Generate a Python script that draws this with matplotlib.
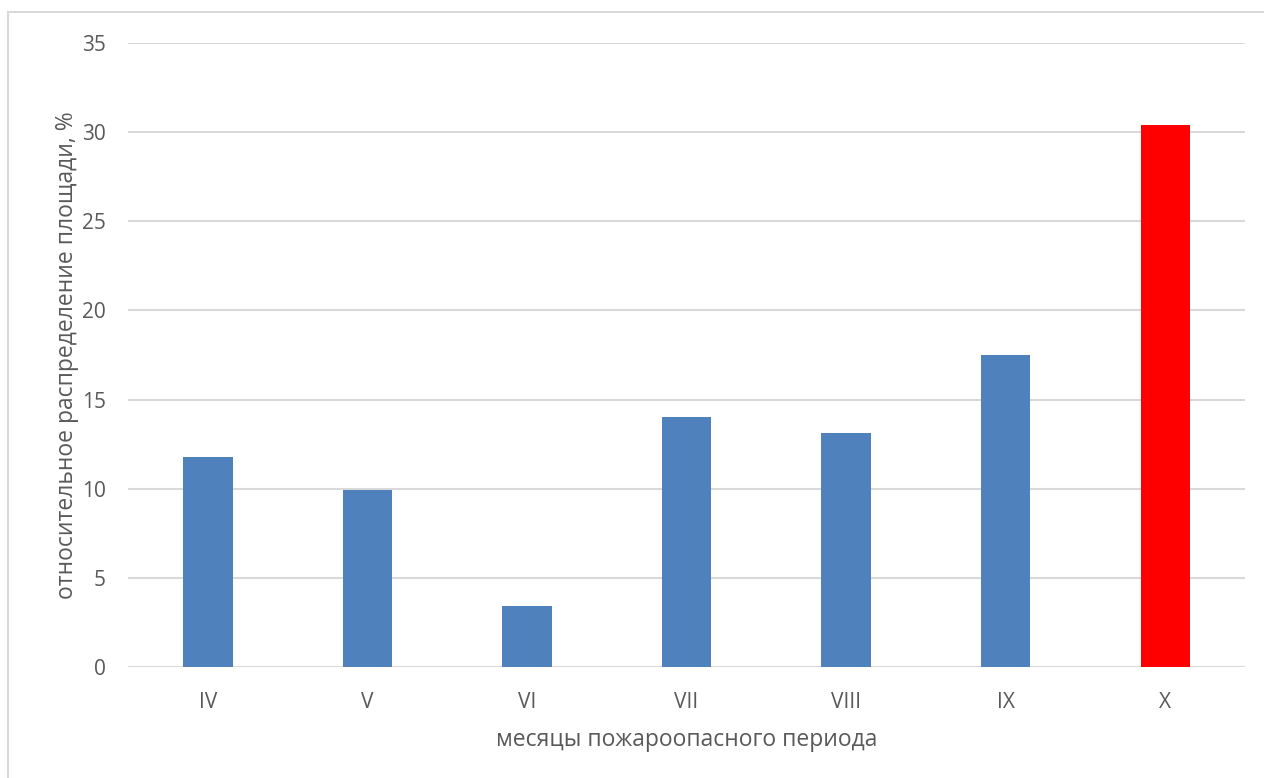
import numpy as np
import matplotlib.pyplot as plt
from matplotlib.patches import Rectangle

months = ["IV", "V", "VI", "VII", "VIII", "IX", "X"]
shares = [11.8, 9.9, 3.4, 14.0, 13.1, 17.5, 30.4]
colors = ["#4f81bd"] * 6 + ["#ff0000"]

plt.rcParams['font.family'] = ['Open Sans', 'DejaVu Sans']
text_color = '#595959'

fig = plt.figure(figsize=(12.64, 7.78), dpi=100, facecolor='w')
ax = fig.add_axes([0.1013, 0.1427, 0.8837, 0.802])

ind = np.arange(len(months))
ax.bar(ind, shares, width=0.31, color=colors, zorder=3)

ax.set_xlim(-0.5, len(months) - 0.5)
ax.set_ylim(0, 35)
ax.set_yticks(np.arange(0, 36, 5))
ax.set_xticks(ind)
ax.set_xticklabels(months)
ax.yaxis.grid(True, color='#d9d9d9', linewidth=1.5, zorder=0)
ax.tick_params(axis='both', length=0, labelsize=15, colors=text_color)
ax.tick_params(axis='y', pad=16)
ax.tick_params(axis='x', pad=18)
for s in ax.spines.values():
    s.set_visible(False)

ax.set_ylabel('относительное распределение площади, %', fontsize=16.5,
              color=text_color, labelpad=2)
ax.set_xlabel('месяцы пожароопасного периода', fontsize=16.5,
              color=text_color, labelpad=11)

# chart area frame
fig.patches.append(Rectangle((8 / 1264, -0.05), 1.1, 1 - 12 / 778 + 0.05,
                             transform=fig.transFigure, fill=False,
                             edgecolor='#d9d9d9', linewidth=1.5))

fig.savefig('out.png', dpi=100)
